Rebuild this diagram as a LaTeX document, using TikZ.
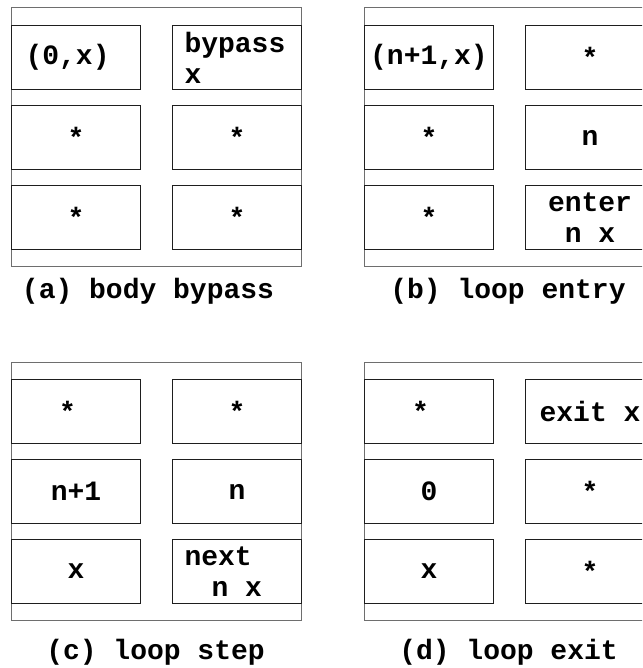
\documentclass[tikz,border=0pt]{standalone}
\usepackage{fontspec}
\setmainfont{Liberation Mono}
\begin{document}
\begin{tikzpicture}[x=1pt,y=-1pt,
  frame/.style={draw={rgb,255:red,110;green,110;blue,110}, line width=1pt},
  cell/.style={draw={rgb,255:red,30;green,30;blue,30}, line width=1pt,
    anchor=north west, minimum width=129pt, minimum height=64pt,
    inner sep=0pt, align=center,
    font=\fontsize{28}{31}\selectfont\bfseries},
  leftcell/.style={cell, align=left, text width=105pt},
  caption/.style={anchor=base, inner sep=0pt,
    font=\fontsize{28}{31}\selectfont\bfseries}]
\useasboundingbox (0,0) rectangle (642,668);
\clip (0,0) rectangle (642,668);

% (a) body bypass
\draw[frame] (11,8) rectangle (301,266);
\node[cell] (a11) at (11,25)  {(0,x)~};
\node[leftcell] (a12) at (172,25) {bypass\\x};
\node[cell] (a21) at (11,105)  {*};
\node[cell] (a22) at (172,105) {*};
\node[cell] (a31) at (11,185)  {*};
\node[cell] (a32) at (172,185) {*};
\node[caption] (acap) at (148,298) {(a) body bypass};

% (b) loop entry
\draw[frame] (364,8) rectangle (654,266);
\node[cell] (b11) at (364,25)  {(n+1,x)};
\node[cell] (b12) at (525,25)  {*};
\node[cell] (b21) at (364,105) {*};
\node[cell] (b22) at (525,105) {n};
\node[cell] (b31) at (364,185) {*};
\node[cell] (b32) at (525,185) {enter\\n x};
\node[caption] (bcap) at (508,298) {(b) loop entry};

% (c) loop step
\draw[frame] (11,362) rectangle (301,620);
\node[cell] (c11) at (11,379)  {*~};
\node[cell] (c12) at (172,379) {*};
\node[cell] (c21) at (11,459)  {n+1};
\node[cell] (c22) at (172,459) {n};
\node[cell] (c31) at (11,539)  {x};
\node[leftcell] (c32) at (172,539) {next\\\hspace*{27pt}n\hphantom{n}x};
\node[caption] (ccap) at (155.5,659) {(c) loop step};

% (d) loop exit
\draw[frame] (364,362) rectangle (654,620);
\node[cell] (d11) at (364,379) {*~};
\node[cell] (d12) at (525,379) {exit x};
\node[cell] (d21) at (364,459) {0};
\node[cell] (d22) at (525,459) {*};
\node[cell] (d31) at (364,539) {x};
\node[cell] (d32) at (525,539) {*};
\node[caption] (dcap) at (508.5,659) {(d) loop exit};
\end{tikzpicture}
\end{document}
